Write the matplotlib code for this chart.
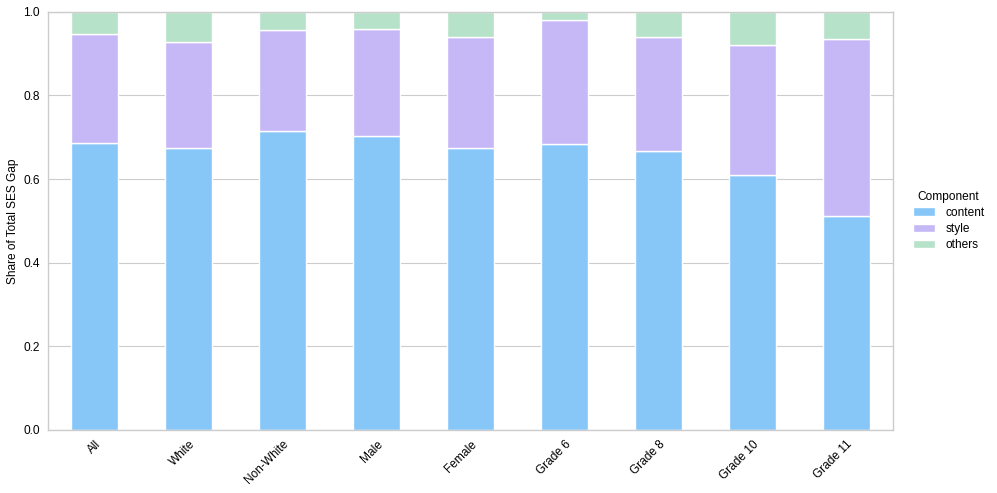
import matplotlib
matplotlib.use("Agg")
import matplotlib.pyplot as plt
import matplotlib.transforms as mtransforms
import numpy as np

categories = ["All", "White", "Non-White", "Male", "Female", "Grade 6", "Grade 8", "Grade 10", "Grade 11"]
content = [0.687, 0.675, 0.714, 0.703, 0.674, 0.684, 0.668, 0.610, 0.512]
style = [0.260, 0.252, 0.243, 0.256, 0.266, 0.297, 0.272, 0.311, 0.422]
others = [1 - c - s for c, s in zip(content, style)]

colors = {"content": "#87c7f8", "style": "#c6b7f7", "others": "#b5e2c8"}

plt.rcParams['font.family'] = ['Liberation Sans', 'DejaVu Sans']
fig = plt.figure(figsize=(9.97, 4.93), dpi=100)
ax = fig.add_axes([0.048, 0.128, 0.848, 0.848])

x = np.arange(len(categories))
w = 0.5
ax.bar(x, content, w, color=colors["content"], edgecolor="white", linewidth=1, label="content", zorder=2)
ax.bar(x, style, w, bottom=content, color=colors["style"], edgecolor="white", linewidth=1, label="style", zorder=2)
bottom2 = [c + s for c, s in zip(content, style)]
ax.bar(x, others, w, bottom=bottom2, color=colors["others"], edgecolor="white", linewidth=1, label="others", zorder=2)

fs = 8.6
ax.set_ylim(0, 1.0)
ax.set_xlim(-0.5, len(categories) - 0.5)
ax.set_xticks(x)
ax.set_xticklabels(categories, rotation=45, ha="right", rotation_mode="anchor", fontsize=fs)
offset = mtransforms.ScaledTranslation(-4 / 100, 0, fig.dpi_scale_trans)
for lbl in ax.get_xticklabels():
    lbl.set_transform(lbl.get_transform() + offset)
ax.set_yticks([0, 0.2, 0.4, 0.6, 0.8, 1.0])
ax.set_yticklabels(["0.0", "0.2", "0.4", "0.6", "0.8", "1.0"], fontsize=fs)
ax.set_ylabel("Share of Total SES Gap", fontsize=fs, labelpad=3)
ax.yaxis.grid(True, color="#cccccc", linewidth=0.8, zorder=0)
ax.xaxis.grid(False)
ax.set_axisbelow(True)
for s in ax.spines.values():
    s.set_color("#cccccc")
    s.set_linewidth(1)
ax.tick_params(length=0, pad=6)

ax.legend(title="Component", loc="center left", bbox_to_anchor=(1.01, 0.5), frameon=False,
          fontsize=fs, title_fontsize=fs, handlelength=1.9, handleheight=0.7,
          handletextpad=0.85, labelspacing=0.35)

fig.savefig("out.png", dpi=100)
